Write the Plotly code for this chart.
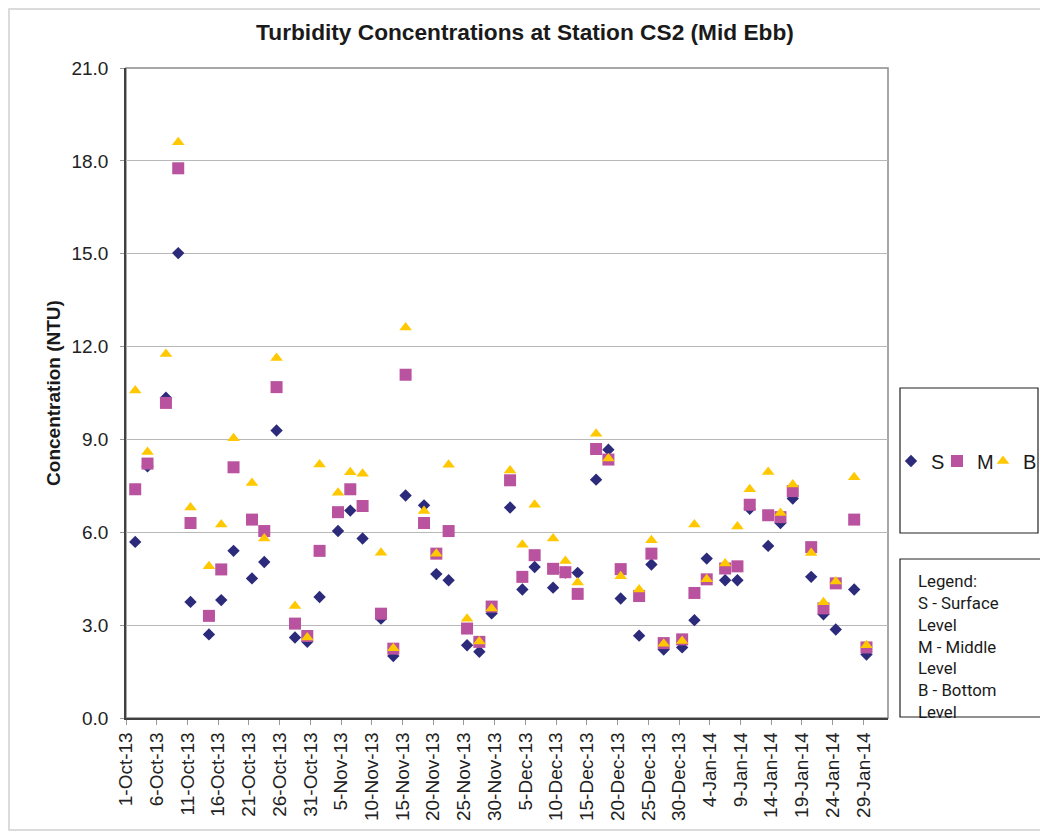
import pandas as pd
import plotly.graph_objects as go

# ---- data ----
dates = ["2013-10-02", "2013-10-04", "2013-10-07", "2013-10-09", "2013-10-11", "2013-10-14",
         "2013-10-16", "2013-10-18", "2013-10-21", "2013-10-23", "2013-10-25", "2013-10-28",
         "2013-10-30", "2013-11-01", "2013-11-04", "2013-11-06", "2013-11-08", "2013-11-11",
         "2013-11-13", "2013-11-15", "2013-11-18", "2013-11-20", "2013-11-22", "2013-11-25",
         "2013-11-27", "2013-11-29", "2013-12-02", "2013-12-04", "2013-12-06", "2013-12-09",
         "2013-12-11", "2013-12-13", "2013-12-16", "2013-12-18", "2013-12-20", "2013-12-23",
         "2013-12-25", "2013-12-27", "2013-12-30", "2014-01-01", "2014-01-03", "2014-01-06",
         "2014-01-08", "2014-01-10", "2014-01-13", "2014-01-15", "2014-01-17", "2014-01-20",
         "2014-01-22", "2014-01-24", "2014-01-27", "2014-01-29"]

surface = [5.69, 8.13, 10.35, 15.02, 3.75, 2.70, 3.81, 5.40, 4.51, 5.04, 9.29, 2.60, 2.46,
           3.91, 6.04, 6.70, 5.80, 3.21, 2.00, 7.19, 6.87, 4.65, 4.45, 2.35, 2.14, 3.38,
           6.80, 4.15, 4.88, 4.21, 4.70, 4.69, 7.70, 8.67, 3.86, 2.66, 4.96, 2.21, 2.28,
           3.16, 5.15, 4.45, 4.45, 6.76, 5.56, 6.30, 7.09, 4.56, 3.35, 2.86, 4.15, 2.05]
middle = [7.39, 8.22, 10.18, 17.76, 6.30, 3.30, 4.80, 8.10, 6.41, 6.04, 10.69, 3.05, 2.65,
          5.40, 6.65, 7.39, 6.85, 3.37, 2.24, 11.09, 6.30, 5.31, 6.04, 2.89, 2.46, 3.60,
          7.68, 4.56, 5.26, 4.82, 4.71, 4.01, 8.69, 8.35, 4.81, 3.94, 5.31, 2.42, 2.54,
          4.04, 4.48, 4.83, 4.90, 6.89, 6.55, 6.49, 7.33, 5.52, 3.54, 4.35, 6.41, 2.28]
bottom = [10.58, 8.59, 11.76, 18.60, 6.80, 4.90, 6.25, 9.04, 7.59, 5.80, 11.63, 3.62, 2.60,
          8.19, 7.28, 7.94, 7.89, 5.34, 2.25, 12.62, 6.69, 5.31, 8.18, 3.21, 2.47, 3.54,
          8.00, 5.60, 6.89, 5.80, 5.07, 4.38, 9.18, 8.38, 4.58, 4.15, 5.74, 2.40, 2.49,
          6.25, 4.48, 4.99, 6.19, 7.39, 7.95, 6.62, 7.54, 5.33, 3.74, 4.41, 7.78, 2.35]

series_names = ["S", "M", "B"]
title_text = "Turbidity Concentrations at Station CS2 (Mid Ebb)"
y_title = "Concentration (NTU)"
note_lines = ["Legend:", "S - Surface", "Level", "M - Middle", "Level", "B - Bottom", "Level"]

# Excel date axis: each point sits in the middle of its day slot
x_vals = pd.to_datetime(dates) + pd.Timedelta(hours=12)
tick_vals = pd.date_range("2013-10-01", "2014-01-29", freq="5D")

# page has an 8px body margin: figure is placed at (8, 8)
OFF = 8
W, H = 1040, 824
L, R, T, B = 118, 160, 60, 114
pw, ph = W - L - R, H - T - B


def px_x(x):
    """page pixel x -> paper fraction"""
    return (x - OFF - L) / pw


def px_y(y):
    """page pixel y -> paper fraction"""
    return (H - B - (y - OFF)) / ph


FONT = "Liberation Sans, Arial, sans-serif"

fig = go.Figure()
styles = [
    dict(symbol="diamond", color="#2B2A7B", size=9.5, lw=1),
    dict(symbol="square", color="#B9529F", size=12, lw=1),
    dict(symbol="triangle-up", color="#FFC800", size=11, lw=22),
]
for name, vals, st in zip(series_names, [surface, middle, bottom], styles):
    fig.add_trace(go.Scatter(
        x=x_vals, y=vals, mode="markers", name=name, legendwidth=st["lw"],
        marker=dict(symbol=st["symbol"], color=st["color"], size=st["size"],
                    line=dict(width=0)),
    ))

fig.update_layout(
    width=W, height=H,
    margin=dict(l=L, r=R, t=T, b=B, autoexpand=False),
    paper_bgcolor="white", plot_bgcolor="white",
    font=dict(family=FONT, color="#222222"),
    title=dict(text=title_text, x=(525 - OFF) / W, xref="container", xanchor="center",
               y=1 - (32 - OFF) / H, yref="container", yanchor="middle",
               font=dict(family=FONT, size=22.7, weight="bold", color="#1a1a1a")),
    showlegend=True,
    legend=dict(orientation="h", x=px_x(891), y=px_y(461), xanchor="left",
                yanchor="middle", font=dict(family=FONT, size=20, color="#1a1a1a"),
                itemwidth=30, entrywidthmode="pixels",
                bgcolor="rgba(0,0,0,0)", borderwidth=0, traceorder="normal"),
)

fig.update_xaxes(
    type="date",
    range=[pd.Timestamp("2013-10-01"), pd.Timestamp("2014-02-02")],
    tickvals=tick_vals, tickformat="%-d-%b-%y", tickangle=-90,
    tickfont=dict(family=FONT, size=19, color="#222222"),
    ticks="outside", ticklen=5, tickcolor="#999999",
    showgrid=False, zeroline=False,
    showline=True, linecolor="#404040", linewidth=1.5,
    ticklabelstandoff=0,
)
fig.update_yaxes(
    range=[0, 21], dtick=3, tick0=0, tickformat=".1f",
    tickfont=dict(family=FONT, size=19, color="#222222"),
    ticks="outside", ticklen=4, tickcolor="#999999",
    showgrid=True, gridcolor="#b8b8b8", gridwidth=1,
    zeroline=False, showline=True, linecolor="#404040", linewidth=1.5,
    ticklabelstandoff=8,
    title=dict(text=y_title, standoff=6,
               font=dict(family=FONT, size=19, weight="bold", color="#1a1a1a")),
)

shapes = [
    # plot area frame
    dict(type="rect", xref="paper", yref="paper", x0=0, x1=1, y0=0, y1=1,
         line=dict(color="#8a8a8a", width=1.5), layer="below"),
    # outer chart frame
    dict(type="rect", xref="paper", yref="paper", x0=px_x(OFF + 1), x1=px_x(1045),
         y0=px_y(830), y1=px_y(OFF + 1), line=dict(color="#cfcfcf", width=1.5),
         layer="below"),
    # legend box
    dict(type="rect", xref="paper", yref="paper", x0=px_x(900), x1=px_x(1038),
         y0=px_y(533), y1=px_y(388), line=dict(color="#222222", width=1.2)),
    # note box
    dict(type="rect", xref="paper", yref="paper", x0=px_x(900), x1=px_x(1043),
         y0=px_y(717), y1=px_y(559), line=dict(color="#222222", width=1.2)),
]
fig.update_layout(shapes=shapes)

fig.add_annotation(
    xref="paper", yref="paper", x=px_x(917), y=px_y(569.5),
    xanchor="left", yanchor="top", showarrow=False,
    text="<br>".join(note_lines), align="left", valign="top",
    width=122, height=147, borderpad=0,
    font=dict(family="Roboto, sans-serif", size=16.8, color="#1a1a1a"),
)

fig.write_html("out.html")
